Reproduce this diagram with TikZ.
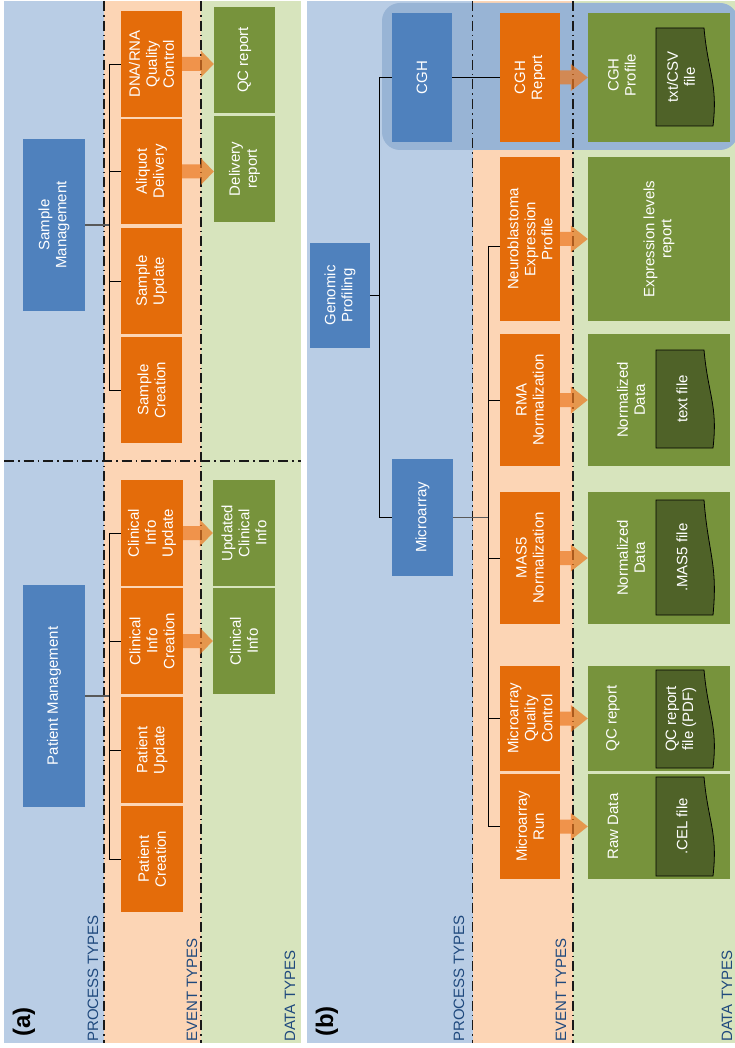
\documentclass[tikz,border=0pt]{standalone}
\usepackage{fontspec}
\setmainfont{Liberation Sans}
\usetikzlibrary{calc}
\definecolor{bgblue}{HTML}{B9CDE5}
\definecolor{bgorange}{HTML}{FCD5B5}
\definecolor{bggreen}{HTML}{D7E4BD}
\definecolor{hlblue}{HTML}{98B4D5}
\definecolor{nblue}{HTML}{4F81BD}
\definecolor{norange}{HTML}{E46C0A}
\definecolor{ngreen}{HTML}{77933C}
\definecolor{ndoc}{HTML}{4F6228}
\definecolor{arrcol}{RGB}{235,119,30}
\definecolor{labcol}{HTML}{1F497D}
\newcommand\nfont{\fontsize{15}{17}\selectfont}
\newcommand\blockarr[3]{%
  \path (#1.south) coordinate (bas) (#2.north |- #1.south) coordinate (tip);
  \fill[arr] ($(bas)+(0,-7)$) -- ($(tip)+(-#3,-7)$) -- ($(tip)+(-#3,-13.5)$) -- (tip)
    -- ($(tip)+(-#3,13.5)$) -- ($(tip)+(-#3,7)$) -- ($(bas)+(0,7)$) -- cycle;}
\begin{document}
\begin{tikzpicture}[x=1pt,y=-1pt,
  box/.style={rotate=90, inner sep=0, align=center, text=white, font=\nfont},
  bluebox/.style={box, fill=nblue},
  orangebox/.style={box, fill=norange},
  greenbox/.style={box, fill=ngreen},
  txt/.style={rotate=90, inner sep=0, align=center, text=white, font=\nfont},
  docshape/.style={fill=ndoc, draw=black, line width=0.8pt},
  lane/.style={rotate=90, inner sep=0, anchor=base west, text=labcol, font=\fontsize{15}{17}\selectfont},
  panel/.style={rotate=90, inner sep=0, anchor=base west, font=\fontsize{24}{28}\selectfont\bfseries},
  divider/.style={line width=1.8pt, color=black!90, dash pattern=on 10pt off 4pt on 1.6pt off 4pt},
  mgmt/.style={line width=1.4pt, color=black!65},
  tick/.style={line width=0.9pt, color=black},
  arr/.style={fill=arrcol, fill opacity=0.7},
]
\useasboundingbox (0,0) rectangle (735,1048);
% backgrounds
\fill[bgblue] (4,1) rectangle (104,1043);
\fill[bgorange] (104,1) rectangle (201,1043);
\fill[bggreen] (201,1) rectangle (301,1043);
\fill[bgblue] (307,1) rectangle (473,1043);
\fill[bgorange] (473,1) rectangle (573,1043);
\fill[bggreen] (573,1) rectangle (735,1043);
\fill[hlblue, rounded corners=18pt] (382,3) rectangle (738,150);
% dividers
\draw[divider] (104,1) -- (104,1043);
\draw[divider] (201,1) -- (201,1043);
\draw[divider] (4,461) -- (301,461);
\draw[divider] (472.5,1) -- (472.5,1043);
\draw[divider] (573,1) -- (573,1043);

% ---------- panel (a)
\node[bluebox, minimum width=172, minimum height=62] (sm) at (54,225) {Sample\\Management};
\node[bluebox, minimum width=222, minimum height=62] (pm) at (54,696) {Patient Management};
\node[orangebox, minimum width=106, minimum height=61] (e1) at (151.5,64) {DNA/RNA\\Quality\\Control};
\node[orangebox, minimum width=105, minimum height=61] (e2) at (151.5,171.5) {Aliquot\\Delivery};
\node[orangebox, minimum width=106, minimum height=61] (e3) at (151.5,281) {Sample\\Update};
\node[orangebox, minimum width=106, minimum height=61] (e4) at (151.5,390) {Sample\\Creation};
\node[orangebox, minimum width=106, minimum height=62] (e5) at (152,533) {Clinical\\Info\\Update};
\node[orangebox, minimum width=106, minimum height=62] (e6) at (152,641) {Clinical\\Info\\Creation};
\node[orangebox, minimum width=106, minimum height=62] (e7) at (152,750) {Patient\\Update};
\node[orangebox, minimum width=106, minimum height=62] (e8) at (152,859) {Patient\\Creation};
\node[greenbox, minimum width=106, minimum height=61] (d1) at (244.5,60) {QC report};
\node[greenbox, minimum width=106, minimum height=61] (d2) at (244.5,169) {Delivery\\report};
\node[greenbox, minimum width=106, minimum height=62] (d3) at (244,533) {Updated\\Clinical\\Info};
\node[greenbox, minimum width=106, minimum height=62] (d4) at (244,641) {Clinical\\Info};

\coordinate (busa) at (109,0);
\draw[mgmt] (sm.south) -- (sm.south -| busa);
\draw[mgmt] (pm.south) -- (pm.south -| busa);
\draw[tick] (busa |- e1.north) -- (busa |- e4.north);
\draw[tick] (busa |- e5.north) -- (busa |- e8.north);
\foreach \n in {e1,e2,e3,e4,e5,e6,e7,e8}
  \draw[tick] (busa |- \n.north) -- (\n.north);

\blockarr{e1}{d1}{13}
\blockarr{e2}{d2}{13}
\blockarr{e5}{d3}{13}
\blockarr{e6}{d4}{13}

% ---------- panel (b)
\node[bluebox, minimum width=105, minimum height=60] (gp) at (340,295.5) {Genomic\\Profiling};
\node[bluebox, minimum width=129, minimum height=60] (cgh) at (422,77.5) {CGH};
\node[bluebox, minimum width=117, minimum height=61] (ma) at (422.5,517.5) {Microarray};
\node[orangebox, minimum width=129, minimum height=60] (f1) at (530,77.5) {CGH\\Report};
\node[orangebox, minimum width=164, minimum height=60] (f2) at (530,239) {Neuroblastoma\\Expression\\Profile};
\node[orangebox, minimum width=132, minimum height=60] (f3) at (530,400) {RMA\\Normalization};
\node[orangebox, minimum width=132, minimum height=60] (f4) at (530,558) {MAS5\\Normalization};
\node[orangebox, minimum width=105, minimum height=60] (f5) at (530,718.5) {Microarray\\Quality\\Control};
\node[orangebox, minimum width=105, minimum height=60] (f6) at (530,826.5) {Microarray\\Run};
\node[greenbox, minimum width=129, minimum height=142] (g1) at (659,77.5) {};
\node[greenbox, minimum width=164, minimum height=142] (g2) at (659,239) {Expression levels\\report};
\node[greenbox, minimum width=132, minimum height=142] (g3) at (659,400) {};
\node[greenbox, minimum width=132, minimum height=142] (g4) at (659,558) {};
\node[greenbox, minimum width=105, minimum height=142] (g5) at (659,718.5) {};
\node[greenbox, minimum width=105, minimum height=142] (g6) at (659,826.5) {};
\node[txt] (g1t) at (622,75) {CGH\\Profile};
\node[txt] (g3t) at (631,400) {Normalized\\Data};
\node[txt] (g4t) at (631,558) {Normalized\\Data};
\node[txt] (g5t) at (613,718.5) {QC report};
\node[txt] (g6t) at (613,826.5) {Raw Data};

% documents
\draw[docshape] (656,28) -- (704,28) .. controls (708,73) and (718,83) .. (713,126) -- (656,126) -- cycle;
\draw[docshape] (656,350) -- (704,350) .. controls (708,395) and (718,405) .. (713,448) -- (656,448) -- cycle;
\draw[docshape] (656,500) -- (704,500) .. controls (708,553) and (718,564) .. (713,615) -- (656,615) -- cycle;
\draw[docshape] (656,670) -- (704,670) .. controls (708,715) and (718,725) .. (713,768) -- (656,768) -- cycle;
\draw[docshape] (656,777) -- (704,777) .. controls (708,822) and (718,832) .. (713,876) -- (656,876) -- cycle;
\node[txt] (k1) at (681,77) {txt/CSV\\file};
\node[txt] (k3) at (682,399) {text file};
\node[txt] (k4) at (682,557.5) {.MAS5 file};
\node[txt] (k5) at (681,719) {QC report\\file (PDF)};
\node[txt] (k6) at (682,826.5) {.CEL file};

\coordinate (busg) at (379,0);
\coordinate (busm) at (488,0);
\draw[tick] (gp.south) -- (gp.south -| busg);
\draw[tick] (busg |- cgh.north) -- (busg |- ma.north);
\draw[tick] (busg |- cgh.north) -- (cgh.north);
\draw[tick] (busg |- ma.north) -- (ma.north);
\draw[tick] (cgh.south) -- (f1.north);
\draw[mgmt] (ma.south) -- (ma.south -| busm);
\draw[tick] ($(busm |- f2.north)+(0,7)$) -- (busm |- f6.north);
\draw[tick] ($(busm |- f2.north)+(0,7)$) -- ($(f2.north)+(0,7)$);
\foreach \n in {f3,f4,f5,f6}
  \draw[tick] (busm |- \n.north) -- (\n.north);

\blockarr{f1}{g1}{17}
\blockarr{f2}{g2}{17}
\blockarr{f3}{g3}{17}
\blockarr{f4}{g4}{17}
\blockarr{f5}{g5}{17}
\blockarr{f6}{g6}{17}

% labels
\node[panel] (la) at (30,1037) {(a)};
\node[lane] (pa) at (98,1042) {PROCESS TYPES};
\node[lane] (ea) at (197,1042) {EVENT TYPES};
\node[lane] (da) at (295,1042) {DATA TYPES};
\node[panel] (lb) at (333,1037) {(b)};
\node[lane] (pb) at (464,1042) {PROCESS TYPES};
\node[lane] (eb) at (566,1042) {EVENT TYPES};
\node[lane] (db) at (732,1042) {DATA TYPES};
\end{tikzpicture}
\end{document}
